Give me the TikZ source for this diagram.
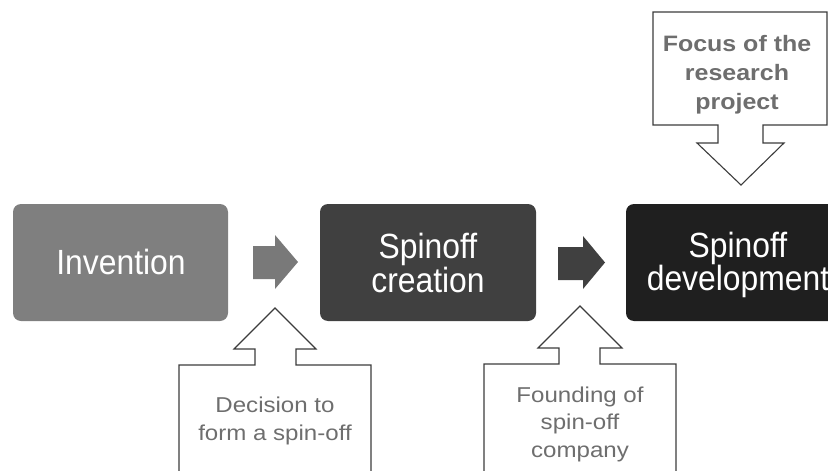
\documentclass[tikz,border=0pt]{standalone}
\usepackage{fontspec}
\setmainfont{Liberation Sans}
\newfontfamily\stagefont[FakeStretch=0.91]{Liberation Sans}
\newfontfamily\notefont[FakeStretch=1.12]{Liberation Sans}
\definecolor{stageA}{HTML}{7F7F7F}
\definecolor{stageB}{HTML}{404040}
\definecolor{stageC}{HTML}{1F1F1F}
\definecolor{notetext}{HTML}{6E6E6E}
\definecolor{noteline}{HTML}{3C3C3C}
\tikzset{
  stagebox/.style={rounded corners=8pt, draw=none},
  stagetext/.style={text=white, align=center, inner sep=0pt,
    font=\stagefont\fontsize{35}{32}\selectfont},
  chevron/.style={draw=none},
  callout/.style={draw=noteline, line width=1.1pt, fill=white, line join=miter},
  notelabel/.style={text=notetext, align=center, inner sep=0pt,
    font=\notefont\fontsize{21.5}{27.5}\selectfont},
  focuslabel/.style={text=notetext, align=center, inner sep=0pt,
    font=\notefont\bfseries\fontsize{22.3}{29}\selectfont},
}
\begin{document}
\begin{tikzpicture}[x=1pt, y=-1pt]
\useasboundingbox (0,0) rectangle (828,471);
\clip (0,0) rectangle (828,471);

% three stages
\fill[stagebox, fill=stageA] (13,204) rectangle (228,321);
\fill[stagebox, fill=stageB] (320,204) rectangle (536,321);
\fill[stagebox, fill=stageC] (626,204) rectangle (850,321);
\node[stagetext] (invention) at (121,262) {Invention};
\node[stagetext] (creation) at (428,263) {Spinoff\\creation};
\node[stagetext] (development) at (738,265) {Spinoff\\development};

% block arrows between stages
\fill[chevron, fill=stageA!105!white] (253,246) -- (275,246) -- (275,235) -- (298,262)
  -- (275,289) -- (275,279) -- (253,279) -- cycle;
\fill[chevron, fill=stageB] (558,247) -- (583,247) -- (583,236) -- (605,262.5)
  -- (583,289) -- (583,280) -- (558,280) -- cycle;

% callout under the first arrow
\draw[callout] (179,480) -- (179,365) -- (255,365) -- (255,349) -- (234,349)
  -- (275,308) -- (316,349) -- (296,349) -- (296,365) -- (371,365) -- (371,480);
\node[notelabel] (decision) at (275,421) {Decision to\\form a spin-off};

% callout under the second arrow
\draw[callout] (484,480) -- (484,364) -- (559,364) -- (559,348) -- (538,348)
  -- (580,306) -- (622,348) -- (600,348) -- (600,364) -- (676,364) -- (676,480);
\node[notelabel] (founding) at (580,424) {Founding of\\spin-off\\company};

% callout above the last stage
\draw[callout] (653,12) -- (827,12) -- (827,125) -- (763,125) -- (763,143) -- (784,143)
  -- (741,185) -- (697,143) -- (718,143) -- (718,125) -- (653,125) -- cycle;
\node[focuslabel] (focus) at (737,75) {Focus of the\\research\\project};
\end{tikzpicture}
\end{document}
